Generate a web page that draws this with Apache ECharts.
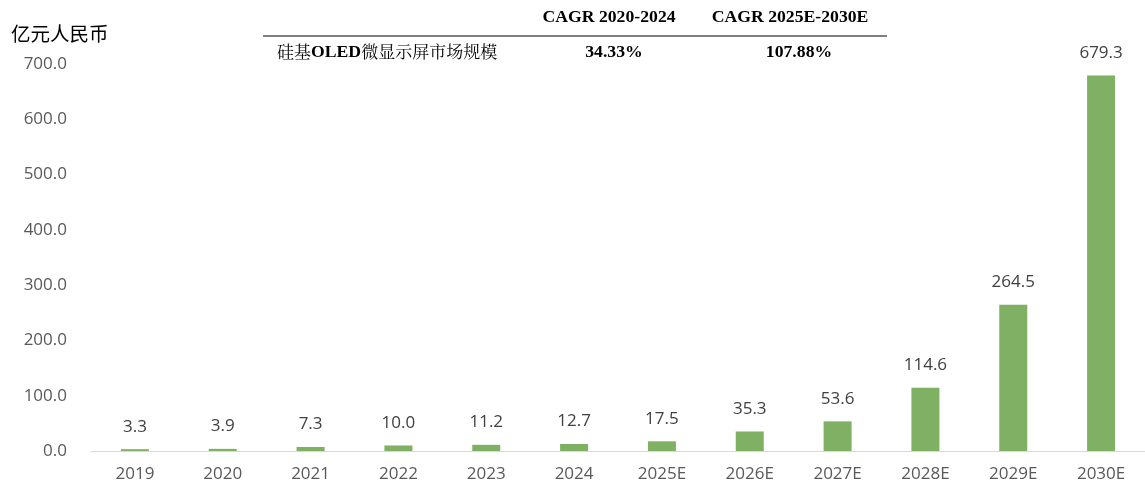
<!DOCTYPE html>
<html>
<head>
<meta charset="utf-8">
<script src="https://cdn.jsdelivr.net/npm/echarts@6/dist/echarts.min.js"></script>
<style>
html, body { margin: 0; padding: 0; background: #fff; }
#main { width: 1145px; height: 484px; }
</style>
</head>
<body>
<div id="main"></div>
<script>
var years = ['2019', '2020', '2021', '2022', '2023', '2024', '2025E', '2026E', '2027E', '2028E', '2029E', '2030E'];
var marketSize = [3.3, 3.9, 7.3, 10.0, 11.2, 12.7, 17.5, 35.3, 53.6, 114.6, 264.5, 679.3];
var cagrHeaders = ['CAGR 2020-2024', 'CAGR 2025E-2030E'];
var cagrRowName = ['硅基', 'OLED', '微显示屏市场规模'];
var cagrValues = ['34.33%', '107.88%'];

function setChart(){
    var chartDom = document.getElementById('main');
    var myChart = echarts.init(chartDom);
    var serif = '"Liberation Serif", "Times New Roman", "Noto Sans CJK SC", serif';
    var option;
    option = {
        animation: false,
        grid: {
            left: 91,
            right: -8,
            top: 64,
            bottom: 33
        },
        graphic: [
            {type: 'text', left: 11, top: 24, style: {text: '亿元人民币', font: '19.5px "Noto Sans CJK SC", sans-serif', fill: '#000'}},
            {type: 'text', x: 609, y: 17, style: {text: cagrHeaders[0], font: 'bold 17.7px ' + serif, fill: '#000', align: 'center', verticalAlign: 'middle'}},
            {type: 'text', x: 790, y: 17, style: {text: cagrHeaders[1], font: 'bold 17.7px ' + serif, fill: '#000', align: 'center', verticalAlign: 'middle'}},
            {type: 'line', shape: {x1: 263, y1: 36, x2: 887, y2: 36}, style: {stroke: '#000', lineWidth: 1}},
            {type: 'text', x: 277, y: 52, style: {
                text: '{a|' + cagrRowName[0] + '}{b|' + cagrRowName[1] + '}{a|' + cagrRowName[2] + '}',
                verticalAlign: 'middle',
                rich: {
                    a: {font: '17px "Noto Serif CJK SC", "Noto Sans CJK SC", serif', fill: '#000'},
                    b: {font: 'bold 17.7px ' + serif, fill: '#000'}
                }
            }},
            {type: 'text', x: 614, y: 52, style: {text: cagrValues[0], font: 'bold 17.7px ' + serif, fill: '#000', align: 'center', verticalAlign: 'middle'}},
            {type: 'text', x: 799, y: 52, style: {text: cagrValues[1], font: 'bold 17.7px ' + serif, fill: '#000', align: 'center', verticalAlign: 'middle'}}
        ],
        xAxis: {
            type: 'category',
            data: years,
            axisTick: {show: false},
            axisLine: {lineStyle: {color: '#d9d9d9', width: 1}},
            axisLabel: {color: '#595959', fontSize: 17, fontFamily: '"Open Sans", sans-serif', margin: 15}
        },
        yAxis: {
            type: 'value',
            min: 0,
            max: 700,
            interval: 100,
            splitLine: {show: false},
            axisLine: {show: false},
            axisTick: {show: false},
            axisLabel: {
                color: '#595959',
                fontSize: 17,
                fontFamily: '"Open Sans", sans-serif',
                margin: 24,
                formatter: function (v) { return v.toFixed(1); }
            }
        },
        series: [
            {
                type: 'bar',
                data: marketSize,
                barWidth: 28,
                itemStyle: {color: '#80b063'},
                label: {
                    show: true,
                    position: 'top',
                    distance: 14,
                    color: '#404040',
                    fontSize: 17,
                    fontFamily: '"Open Sans", sans-serif',
                    formatter: function (p) { return p.value.toFixed(1); }
                }
            }
        ]
    };
    option && myChart.setOption(option);
}
setChart();
</script>
</body>
</html>
